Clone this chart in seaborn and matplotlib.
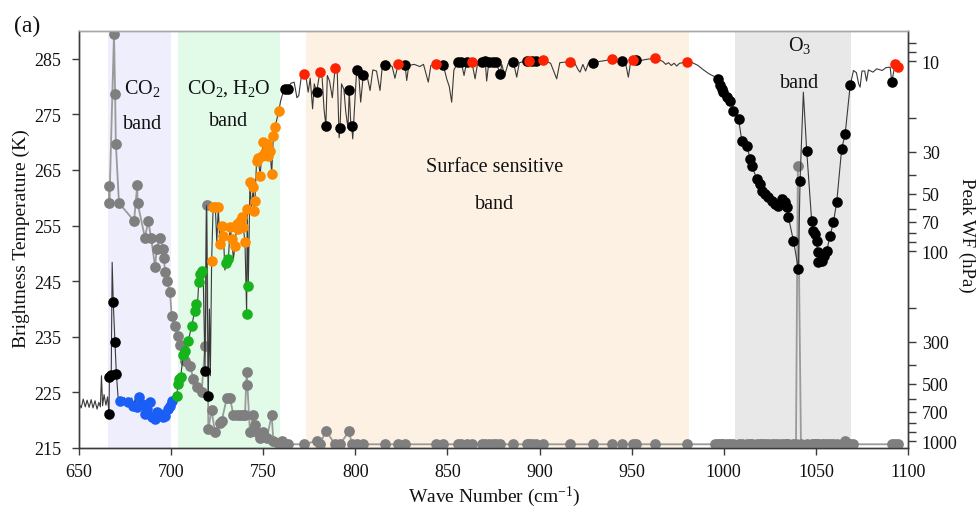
import matplotlib
matplotlib.use("Agg")
import matplotlib.pyplot as plt
from matplotlib.ticker import FixedLocator, FixedFormatter, NullFormatter
import pandas as pd
import seaborn as sns

# ---------------- data ----------------
# high-resolution brightness temperature spectrum (cm-1, K)
spec_wn = [650.0, 651.2, 652.3, 653.4, 654.4, 655.5, 656.6, 657.6, 658.7, 659.8, 660.8, 661.6, 662.2, 662.8,
           663.6, 664.6, 665.5, 666.3, 666.5, 667.5, 668.0, 668.6, 669.5, 670.3, 671.2, 672.5, 673.5, 674.5,
           675.5, 676.8, 677.8, 678.6, 679.5, 680.5, 681.5, 682.7, 684.0, 685.0, 685.8, 687.0, 688.5, 689.5,
           690.5, 691.3, 692.5, 694.0, 695.5, 696.7, 698.3, 699.4, 700.3, 701.5, 703.0, 703.8, 704.5, 705.2,
           706.6, 707.5, 709.3, 711.2, 712.2, 713.0, 713.3, 714.0, 715.0, 715.7, 716.6, 717.5, 718.4, 719.2,
           720.2, 720.8, 721.3, 722.0, 722.8, 724.0, 724.8, 725.6, 726.5, 727.5, 728.4, 729.2, 730.0, 731.1,
           732.0, 732.9, 733.8, 734.7, 735.6, 736.5, 737.4, 738.3, 739.2, 740.1, 741.0, 741.3, 741.9, 742.8,
           743.6, 744.6, 745.0, 745.5, 746.4, 747.3, 748.3, 749.2, 750.0, 751.0, 751.9, 752.8, 753.7, 754.6,
           755.5, 756.4, 758.5, 759.5, 760.8, 761.8, 763.2, 765.0, 766.8, 768.3, 769.3, 770.6, 772.0, 773.2,
           774.4, 775.5, 776.8, 777.7, 779.0, 780.8, 782.0, 783.0, 784.0, 784.8, 786.0, 787.5, 789.0, 790.2,
           791.2, 791.7, 792.5, 793.8, 794.8, 796.0, 796.7, 797.5, 798.0, 798.6, 799.5, 800.7, 802.0, 802.9,
           804.3, 806.0, 808.0, 809.5, 811.5, 813.4, 814.5, 816.1, 818.0, 820.0, 821.5, 823.3, 825.5, 827.0,
           827.9, 829.0, 832.0, 835.0, 837.0, 839.6, 841.0, 843.8, 846.0, 847.8, 849.6, 851.0, 852.3, 853.5,
           855.9, 857.5, 859.0, 860.5, 863.2, 865.0, 866.5, 868.5, 870.5, 871.3, 872.5, 874.5, 876.5, 877.8,
           878.6, 879.5, 881.0, 883.0, 885.8, 887.6, 889.0, 891.5, 893.2, 894.5, 896.0, 898.0, 900.0, 902.0,
           904.0, 906.0, 909.3, 911.0, 914.0, 916.6, 919.0, 921.0, 922.0, 923.5, 925.0, 926.5, 928.8, 932.0,
           936.0, 939.2, 942.0, 944.6, 946.5, 948.2, 949.5, 950.9, 952.5, 955.0, 958.0, 962.7, 965.0, 967.0,
           968.5, 970.0, 971.5, 973.0, 974.5, 976.0, 979.9, 983.0, 986.0, 989.0, 992.0, 995.0, 997.0, 998.0,
           999.0, 999.8, 1001.6, 1003.4, 1005.2, 1008.0, 1009.8, 1012.5, 1014.3, 1015.2, 1017.9, 1019.7,
           1020.6, 1022.4, 1024.2, 1026.0, 1027.9, 1029.6, 1030.5, 1031.5, 1033.3, 1034.2, 1035.1, 1037.8,
           1040.5, 1041.4, 1043.2, 1045.0, 1047.7, 1048.5, 1049.6, 1050.5, 1050.9, 1051.4, 1053.2, 1054.5,
           1055.9, 1057.7, 1059.5, 1061.3, 1064.0, 1065.9, 1068.6, 1070.4, 1072.0, 1073.2, 1074.0, 1075.0,
           1076.5, 1077.5, 1078.5, 1081.0, 1083.0, 1086.0, 1088.0, 1090.3, 1091.2, 1093.0, 1094.8]
spec_bt = [223.0, 222.2, 223.8, 222.4, 223.6, 222.3, 223.7, 222.2, 223.5, 222.0, 223.2, 222.4, 228.0, 222.6,
           224.6, 222.7, 224.2, 221.1, 227.8, 228.1, 248.4, 241.2, 234.1, 228.3, 224.2, 223.5, 222.8, 224.1,
           222.6, 223.3, 222.0, 224.0, 222.6, 223.8, 222.3, 224.2, 223.0, 221.8, 221.1, 222.0, 223.2, 220.6,
           221.5, 220.2, 221.4, 221.1, 220.5, 220.8, 222.0, 222.6, 223.5, 223.9, 224.4, 226.5, 227.5, 227.8,
           231.8, 232.4, 234.3, 237.0, 238.6, 239.7, 240.9, 238.8, 244.8, 246.3, 246.9, 244.5, 228.9, 258.6,
           224.4, 240.0, 228.0, 248.7, 258.3, 258.3, 252.0, 258.3, 251.7, 255.0, 253.2, 247.0, 248.2, 249.0,
           254.7, 252.6, 249.0, 251.4, 255.3, 254.4, 255.9, 256.5, 254.7, 252.0, 239.1, 258.0, 244.2, 262.8,
           258.0, 261.9, 257.7, 259.5, 266.7, 267.2, 264.0, 267.6, 270.0, 268.2, 269.7, 267.6, 268.5, 264.3,
           271.2, 272.7, 275.7, 277.5, 279.0, 279.6, 279.6, 280.6, 280.8, 278.0, 278.4, 281.6, 282.3, 281.8,
           279.0, 281.5, 276.0, 280.5, 279.0, 282.7, 281.5, 276.0, 273.0, 282.0, 281.0, 278.0, 283.3, 282.5,
           270.8, 272.6, 280.5, 279.5, 275.5, 272.5, 279.3, 273.5, 273.0, 270.6, 276.0, 282.9, 281.5, 277.2,
           282.0, 282.5, 279.3, 283.0, 282.8, 279.3, 283.2, 283.8, 284.0, 283.6, 281.5, 284.1, 283.9, 283.8,
           281.1, 283.8, 284.0, 283.6, 284.0, 280.8, 283.8, 284.1, 283.8, 283.8, 281.4, 280.0, 277.2, 283.0,
           284.4, 284.4, 282.0, 284.5, 284.5, 281.4, 284.5, 284.5, 284.6, 281.0, 284.5, 284.5, 284.5, 283.0,
           282.3, 284.0, 282.0, 284.2, 284.4, 281.7, 284.3, 284.5, 284.6, 284.6, 284.6, 284.6, 284.7, 284.8,
           284.5, 284.2, 281.4, 284.3, 284.4, 284.5, 284.3, 283.0, 282.6, 284.0, 282.8, 284.2, 284.3, 284.5,
           284.7, 284.9, 284.7, 284.6, 284.5, 281.7, 284.6, 284.7, 284.7, 284.7, 284.9, 285.1, 284.8, 284.5,
           284.0, 284.3, 283.8, 284.2, 283.7, 284.2, 284.4, 284.3, 283.8, 283.0, 282.3, 281.8, 281.4, 280.2,
           279.5, 279.0, 278.1, 277.5, 275.7, 274.2, 270.3, 269.4, 267.0, 265.8, 263.4, 262.5,
           261.3, 260.7, 260.1, 259.5, 258.9, 258.6, 260.5, 259.8, 259.2, 258.3, 256.5, 252.3,
           247.2, 263.1, 279.0, 268.5, 255.9, 254.1, 253.5, 252.3, 248.4, 250.2, 248.7, 249.5,
           250.5, 253.2, 255.6, 259.2, 268.8, 271.5, 280.2, 282.9, 282.5, 280.5, 279.9, 282.8,
           282.8, 281.0, 283.0, 282.6, 283.2, 282.9, 283.4, 283.5, 280.8, 284.1, 283.5]

# selected channels, grouped by marker colour (cm-1, K)
black_wn = [666.3, 666.5, 667.5, 668.6, 669.5, 670.3, 718.4, 720.2,
            761.8, 763.2, 779.0, 784.0, 791.7, 796.7, 798.0, 800.7, 804.3, 816.1, 827.0, 847.8, 855.9, 857.5,
            860.5, 868.5, 870.5, 872.5, 874.5, 876.5, 878.6, 885.8, 893.2, 896.0, 898.0, 928.8, 944.6, 952.5,
            997.0, 998.0, 999.0, 999.8, 1001.6, 1003.4, 1005.2, 1008.0, 1009.8, 1012.5, 1014.3, 1015.2,
            1017.9, 1019.7, 1020.6, 1022.4, 1024.2, 1026.0, 1027.9, 1029.6, 1031.5, 1033.3, 1034.2, 1035.1,
            1037.8, 1040.5, 1041.4, 1045.0, 1047.7, 1048.5, 1049.6, 1050.5, 1050.9, 1051.4, 1053.2, 1054.5,
            1055.9, 1057.7, 1059.5, 1061.3, 1064.0, 1065.9, 1068.6, 1091.2]
black_bt = [221.1, 227.8, 228.1, 241.2, 234.1, 228.3, 228.9, 224.4,
            279.6, 279.6, 279.0, 273.0, 272.6, 279.3, 273.0, 282.9, 282.0, 283.8, 283.8, 283.8, 284.4, 284.4,
            284.5, 284.5, 284.6, 284.5, 284.5, 284.5, 282.3, 284.4, 284.6, 284.6, 284.6, 284.3, 284.6, 284.7,
            281.4, 280.2, 279.5, 279.0, 278.1, 277.5, 275.7, 274.2, 270.3, 269.4, 267.0, 265.8,
            263.4, 262.5, 261.3, 260.7, 260.1, 259.5, 258.9, 258.6, 259.8, 259.2, 258.3, 256.5,
            252.3, 247.2, 263.1, 268.5, 255.9, 254.1, 253.5, 252.3, 248.4, 250.2, 248.7, 249.5,
            250.5, 253.2, 255.6, 259.2, 268.8, 271.5, 280.2, 280.8]

blue_wn = [672.5, 676.8, 679.5, 681.5, 682.7, 684.0, 685.8, 687.0, 688.5, 689.5, 691.3, 692.5, 694.0,
           695.5, 696.7, 698.3, 699.4, 700.3]
blue_bt = [223.5, 223.3, 222.6, 222.3, 224.2, 223.0, 221.1, 222.0, 223.2, 220.6, 220.2, 221.4, 221.1,
           220.5, 220.8, 222.0, 222.6, 223.5]

green_wn = [703.0, 703.8, 704.5, 705.2, 706.6, 707.5, 709.3, 711.2, 713.0, 713.3, 715.0, 715.7, 716.6,
            730.0, 731.1, 741.0, 741.9]
green_bt = [224.4, 226.5, 227.5, 227.8, 231.8, 232.4, 234.3, 237.0, 239.7, 240.9, 244.8, 246.3, 246.9,
            248.2, 249.0, 239.1, 244.2]

orange_wn = [722.0, 722.8, 724.0, 725.6, 726.5, 727.5, 728.4, 732.0, 732.9, 734.7, 735.6, 736.5, 737.4,
             738.3, 739.2, 740.1, 741.3, 742.8, 744.6, 745.0, 745.5, 746.4, 747.3, 748.3, 749.2, 750.0,
             751.0, 751.9, 752.8, 753.7, 754.6, 755.5, 756.4, 758.5]
orange_bt = [248.7, 258.3, 258.3, 258.3, 251.7, 255.0, 253.2, 254.7, 252.6, 251.4, 255.3, 254.4, 255.9,
             256.5, 254.7, 252.0, 258.0, 262.8, 261.9, 257.7, 259.5, 266.7, 267.2, 264.0, 267.6, 270.0,
             268.2, 269.7, 267.6, 268.5, 264.3, 271.2, 272.7, 275.7]

red_wn = [772.0, 780.8, 789.0, 823.3, 843.8, 863.2, 894.5, 902.0, 916.6, 939.2, 950.9, 962.7, 979.9,
          1093.0, 1094.8]
red_bt = [282.3, 282.7, 283.3, 284.1, 284.1, 284.5, 284.6, 284.8, 284.5, 284.9, 284.7, 285.1, 284.4,
          284.1, 283.5]

# weighting-function peak pressure of each channel (cm-1, hPa), written row by row
wf_wn = [666.3, 666.5, 669.0, 669.6, 670.0, 671.7, 679.9, 681.6, 681.8, 685.8, 687.6, 689.1, 691.3,
         692.2, 694.0, 695.8, 696.1, 696.7, 697.6, 699.4, 700.3, 702.1, 703.9, 704.8, 707.5, 710.3, 712.0,
         713.9, 716.6, 718.4, 719.3, 720.2, 722.0, 723.8, 726.5, 727.5, 730.2, 732.0, 733.8, 735.6, 737.4,
         739.2, 740.1, 741.0, 741.4, 742.8, 744.6, 745.5, 746.4, 748.3, 750.0, 752.0, 754.6, 755.5, 758.0,
         760.0, 761.8, 763.2, 772.0, 779.0, 780.8, 784.0, 789.0, 791.7, 796.7, 798.0, 800.7, 804.3, 816.1,
         823.3, 827.0, 843.8, 847.8, 855.9, 857.5, 860.5, 863.2, 868.5, 870.5, 872.5, 874.5, 876.5, 878.6,
         885.8, 893.2, 894.5, 896.0, 898.0, 902.0, 916.6, 928.8, 939.2, 944.6, 950.9, 952.5, 962.7, 979.9,
         995.5, 997.0, 998.0, 999.0, 999.8, 1001.6, 1003.4, 1005.2, 1008.0, 1009.8, 1012.5, 1014.3, 1015.2,
         1017.9, 1019.7, 1020.6, 1022.4, 1024.2, 1026.0, 1027.9, 1029.6, 1031.5, 1033.3, 1034.2, 1035.1,
         1037.8, 1039.2, 1040.2, 1041.9, 1045.0, 1047.7, 1048.5, 1049.6, 1050.5, 1051.4, 1053.2, 1054.5,
         1055.9, 1057.7, 1059.5, 1061.3, 1064.0, 1065.9, 1068.6, 1070.0, 1091.2, 1093.0, 1094.8]
wf_p = [45.6, 55.9, 7.2, 14.9, 27.2, 55.9, 69.4, 45.1, 55.9, 85, 69.4, 85, 121,
        97, 85, 97, 109, 129, 144, 164, 219, 247, 279, 314, 378, 402, 469,
        520, 550, 315, 57, 860, 688, 900, 805, 780, 596, 596, 731, 731, 731,
        731, 731, 432, 505, 900, 731, 820, 900, 960, 900, 960, 731, 1000, 1020,
        1000, 1040, 1040, 1040, 1000, 1040, 883, 1040, 1040, 883, 1040, 1040, 1040, 1040,
        1040, 1040, 1040, 1040, 1040, 1040, 1040, 1040, 1040, 1040, 1040, 1040, 1040, 1040,
        1040, 1040, 1040, 1040, 1040, 1040, 1040, 1040, 1040, 1040, 1040, 1040, 1040, 1040,
        1040, 1040, 1040, 1040, 1040, 1040, 1040, 1040, 1040, 1040, 1040, 1040, 1040,
        1040, 1040, 1040, 1040, 1040, 1040, 1040, 1040, 1040, 1040, 1040, 1040,
        1040, 1040, 35.5, 1040, 1040, 1040, 1040, 1040, 1040, 1040, 1040, 1040,
        1040, 1040, 1040, 1040, 1040, 1000, 1040, 1040, 1040, 1040, 1040]

# spectral bands (start, end, colour) and their captions
band_spans = [(666.0, 700.0, "#eeeefc"), (704.0, 759.0, "#e2fae8"),
              (773.0, 981.0, "#fdf1e3"), (1006.0, 1069.0, "#e8e8e8")]
band_labels = [(684.5, 279.8, "CO$_\\mathrm{2}$"), (684.5, 273.3, "band"),
               (731.4, 279.8, "CO$_\\mathrm{2}$, H$_\\mathrm{2}$O"), (731.4, 273.9, "band"),
               (875.8, 265.6, "Surface sensitive"), (875.8, 258.9, "band"),
               (1041.0, 287.6, "O$_\\mathrm{3}$"), (1041.0, 280.7, "band")]

bt_ticks = [215, 225, 235, 245, 255, 265, 275, 285]
wn_ticks = [650, 700, 750, 800, 850, 900, 950, 1000, 1050, 1100]
p_major = [10, 30, 50, 70, 100, 300, 500, 700, 1000]
p_minor = [8, 9, 20, 40, 60, 80, 90, 200, 400, 600, 800, 900]

# ---------------- style ----------------
sns.set_theme(style="ticks")
plt.rcParams["font.family"] = ["Liberation Serif", "DejaVu Serif"]
plt.rcParams["mathtext.fontset"] = "custom"
plt.rcParams["mathtext.rm"] = "Liberation Serif"
plt.rcParams["mathtext.it"] = "Liberation Serif:italic"
plt.rcParams["mathtext.bf"] = "Liberation Serif:bold"

W, H = 977, 510
fig = plt.figure(figsize=(W / 100, H / 100), dpi=100)
fig.patch.set_facecolor("white")
ax = fig.add_axes([79 / W, 1 - 449 / H, 829 / W, 417 / H])
ax2 = ax.twinx()

# ---------------- right axis: bands + weighting-function peaks ----------------
ax2.set_yscale("log")
for x0, x1, c in band_spans:
    ax2.axvspan(x0, x1, color=c, lw=0, zorder=0)

wf = pd.DataFrame({"wn": wf_wn, "p": wf_p})
sns.lineplot(data=wf, x="wn", y="p", ax=ax2, estimator=None, sort=False,
             color="#9a9a9a", lw=1.3, zorder=2)
sns.scatterplot(data=wf, x="wn", y="p", ax=ax2, color="#7f7f7f", s=60,
                linewidth=0, zorder=3)
ax2.set_ylim(1088, 6.95)

# ---------------- left axis: spectrum + channels ----------------
ax.set_zorder(ax2.get_zorder() + 1)
ax.patch.set_visible(False)

spec = pd.DataFrame({"wn": spec_wn, "bt": spec_bt})
sns.lineplot(data=spec, x="wn", y="bt", ax=ax, estimator=None, sort=False,
             color="#3a3a3a", lw=0.8, zorder=2)
for xs, ys, col in [(black_wn, black_bt, "#000000"), (blue_wn, blue_bt, "#1a5ef5"),
                    (green_wn, green_bt, "#16b31c"), (orange_wn, orange_bt, "#ff8a00"),
                    (red_wn, red_bt, "#ff2200")]:
    sns.scatterplot(x=xs, y=ys, ax=ax, color=col, s=58, linewidth=0, zorder=3)

for x, y, t in band_labels:
    ax.text(x, y, t, ha="center", va="center", fontsize=14.5, color="#111111", zorder=5)

ax.set_xlim(650, 1100)
ax.set_ylim(215, 290)
ax.set_xticks(wn_ticks)
ax.set_yticks(bt_ticks)
ax.set_xlabel("")
ax.set_ylabel("")
ax2.set_xlabel("")
ax2.set_ylabel("")

ax2.yaxis.set_major_locator(FixedLocator(p_major))
ax2.yaxis.set_major_formatter(FixedFormatter([str(v) for v in p_major]))
ax2.yaxis.set_minor_locator(FixedLocator(p_minor))
ax2.yaxis.set_minor_formatter(NullFormatter())

spine_col = "#3c3c3c"
for a in (ax, ax2):
    for s in a.spines.values():
        s.set_color(spine_col)
        s.set_linewidth(1.0)
ax.spines["top"].set_color("#a8a8a8")
ax2.spines["top"].set_color("#a8a8a8")

ax.tick_params(axis="x", direction="out", length=5, width=1.0, color=spine_col,
               labelsize=13, pad=6, labelcolor="#111111")
ax.tick_params(axis="y", direction="out", length=5, width=1.0, color=spine_col,
               labelsize=13, pad=8, labelcolor="#111111")
ax2.tick_params(axis="y", which="both", direction="out", length=6, width=1.0,
                color=spine_col, labelsize=13, pad=4, labelcolor="#111111")

fig.text(21 / W, 1 - 239 / H, "Brightness Temperature (K)", rotation=90,
         ha="center", va="center", fontsize=14, color="#111111")
fig.text(494 / W, 1 - 497 / H, "Wave Number (cm$^{\\mathrm{-1}}$)",
         ha="center", va="center", fontsize=14, color="#111111")
fig.text(966.5 / W, 1 - 235 / H, "Peak WF (hPa)", rotation=270,
         ha="center", va="center", fontsize=13.5, color="#111111")
fig.text(27 / W, 1 - 26 / H, "(a)", ha="center", va="center", fontsize=17,
         color="#111111")

fig.savefig("out.png", dpi=100)
